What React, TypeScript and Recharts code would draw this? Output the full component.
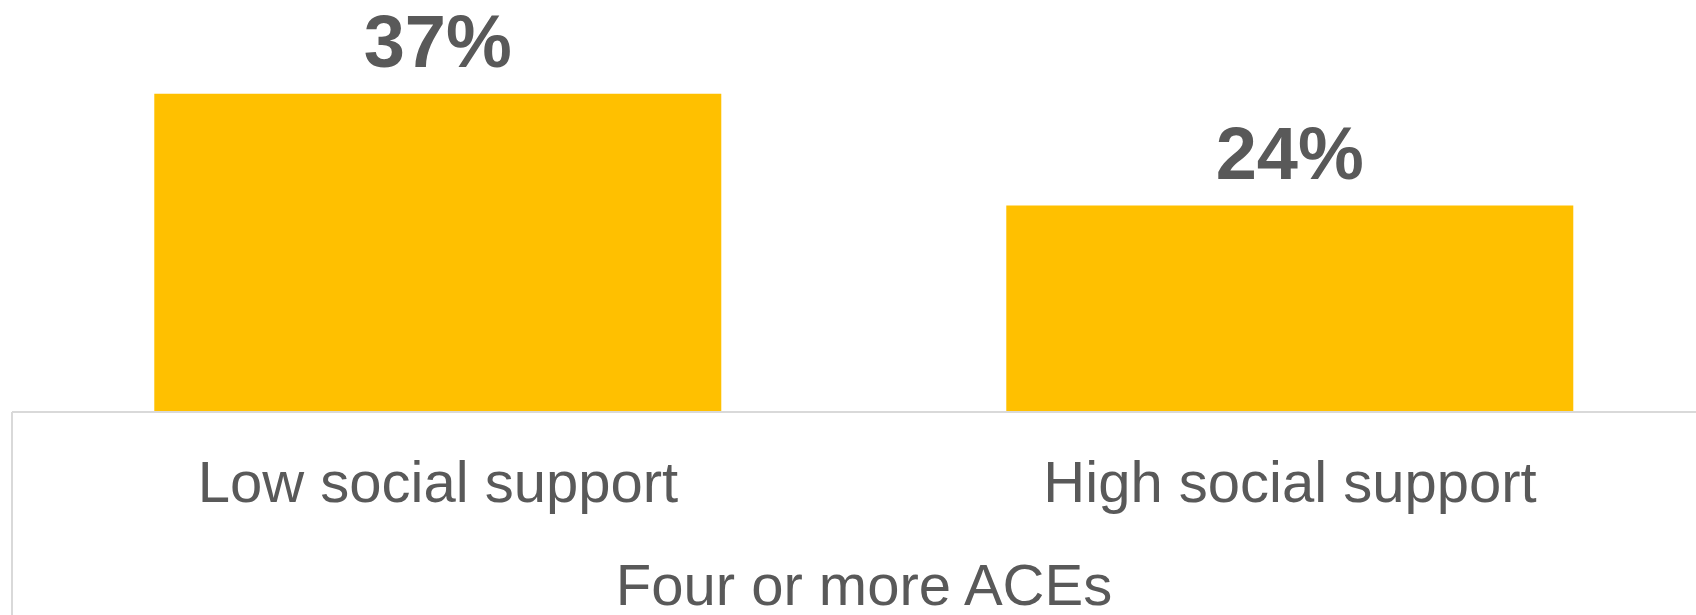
import React from 'react';
import { BarChart, Bar, XAxis, YAxis, LabelList } from 'recharts';

const categories = ['Low social support', 'High social support'];
const values = [37, 24];
const groups = ['Four or more ACEs', 'Four or more ACEs'];

const data = categories.map((c, i) => ({ category: c, value: values[i], group: groups[i] }));

const FONT = '"Liberation Sans", Arial, sans-serif';
const TEXT = '#595959';
const LINE = '#d9d9d9';
const AXIS1_H = 100;
const AXIS2_H = 103;

const CategoryTick = (props: any) => {
  const { x, y, payload } = props;
  return (
    <text x={x} y={y + 90} textAnchor="middle" fill={TEXT} fontSize={58} fontFamily={FONT}>
      {payload.value}
    </text>
  );
};

const GroupTick = (props: any) => {
  const { x, y, payload, width } = props;
  const w = typeof width === 'number' ? width : 1704;
  const left = x - w / 2;
  return (
    <g>
      <line x1={left} x2={left} y1={y - AXIS1_H} y2={y + AXIS2_H} stroke={LINE} strokeWidth={2} />
      <text x={x} y={y + 93} textAnchor="middle" fill={TEXT} fontSize={58} fontFamily={FONT}>
        {payload.value}
      </text>
    </g>
  );
};

export default function App() {
  return (
    <div style={{ position: 'absolute', left: 0, top: 0, width: 1696, height: 615, overflow: 'hidden', background: '#fff' }}>
      <BarChart
        width={1716}
        height={615}
        data={data}
        margin={{ top: 68, right: 0, left: 12, bottom: 0 }}
        barCategoryGap="16.7%"
      >
        <XAxis
          dataKey="category"
          height={AXIS1_H}
          tickLine={false}
          tickSize={0}
          tickMargin={0}
          axisLine={{ stroke: LINE, strokeWidth: 2 }}
          tick={CategoryTick}
          interval={0}
        />
        <XAxis
          xAxisId="group"
          dataKey="group"
          allowDuplicatedCategory={false}
          height={AXIS2_H}
          tickLine={false}
          tickSize={0}
          tickMargin={0}
          axisLine={false}
          tick={GroupTick}
          interval={0}
        />
        <YAxis hide domain={[0, 40]} />
        <Bar dataKey="value" fill="#FFC000" isAnimationActive={false}>
          <LabelList
            dataKey="value"
            position="top"
            offset={27}
            formatter={(v: any) => `${v}%`}
            fill={TEXT}
            fontSize={74}
            fontWeight="bold"
            fontFamily={FONT}
          />
        </Bar>
      </BarChart>
    </div>
  );
}
